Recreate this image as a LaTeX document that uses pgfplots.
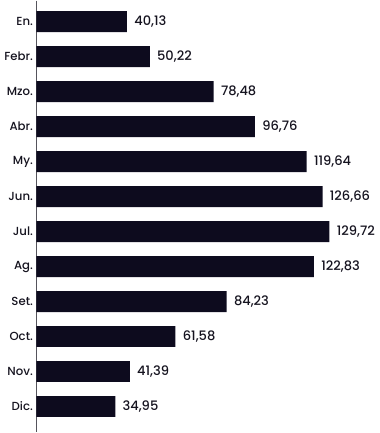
\documentclass[border=0pt]{standalone}
\usepackage{pgfplots}
\pgfplotsset{compat=1.18}
\usepackage{fontspec}
\setmainfont{Poppins}[UprightFont={* Medium}]
\definecolor{barc}{HTML}{0D0B1E}
\definecolor{txt}{HTML}{15131F}
\definecolor{axc}{HTML}{55545C}
\begin{document}
\begin{tikzpicture}
\begin{axis}[
  scale only axis, width=265.5pt, height=324.75pt,
  xmin=0, xmax=156.2, ymin=-0.6, ymax=11.74,
  y dir=reverse,
  axis x line=none,
  axis y line*=left,
  y axis line style={draw=axc, line width=0.9pt, -},
  ytick={0,...,11},
  yticklabels={En.,Febr.,Mzo.,Abr.,My.,Jun.,Jul.,Ag.,Set.,Oct.,Nov.,Dic.},
  major tick length=0pt,
  yticklabel style={font=\fontsize{8.8}{10}\selectfont, text=txt, xshift=1pt},
  xbar, bar width=15.75pt, bar shift=0pt,
  nodes near coords,
  every node near coord/.append style={font=\fontsize{9.8}{11}\selectfont, text=txt, xshift=2pt,
    /pgf/number format/.cd, fixed, fixed zerofill, precision=2, use comma, 1000 sep={}, assume math mode=true},
]
\addplot[fill=barc, draw=none] coordinates {
(40.13,0) (50.22,1) (78.48,2) (96.76,3) (119.64,4) (126.66,5)
(129.72,6) (122.83,7) (84.23,8) (61.58,9) (41.39,10) (34.95,11)};
\end{axis}
\end{tikzpicture}
\end{document}
